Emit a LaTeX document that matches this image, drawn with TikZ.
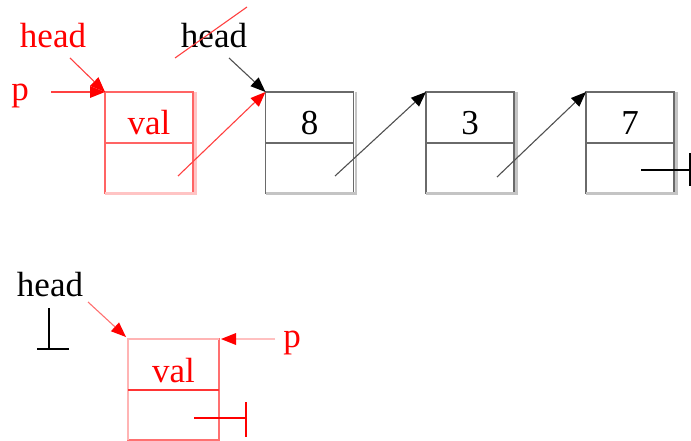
\documentclass[tikz,border=0pt]{standalone}
\usepackage{fontspec}
\setmainfont{Liberation Serif}
\usetikzlibrary{arrows.meta}
\definecolor{boxred}{HTML}{FF6464}
\definecolor{shred}{HTML}{FFC4C4}
\definecolor{boxgray}{HTML}{6A6A6A}
\definecolor{shgray}{HTML}{C4C4C4}
\definecolor{linered}{HTML}{FF4040}
\definecolor{linegray}{HTML}{505050}
\definecolor{pinkA}{HTML}{FFB4B4}
\definecolor{pinkB}{HTML}{FF7070}
\definecolor{midred}{HTML}{FF3434}
\definecolor{pinkline}{HTML}{FFC0C0}
\begin{document}
\begin{tikzpicture}[x=1pt,y=-1pt,
  lbl/.style={font=\fontsize{35}{40}\selectfont, inner sep=0pt, anchor=base},
  cellbox/.style={draw, line width=1.6pt, minimum width=88pt, inner sep=0pt, outer sep=0pt,
    font=\fontsize{35}{40}\selectfont, text height=35pt, text depth=0pt},
  topcell/.style={cellbox, minimum height=51pt},
  botcell/.style={cellbox, minimum height=50pt},
  ptr/.style={line width=1.1pt},
  redptr/.style={ptr, draw=linered, -{Triangle[length=15pt,width=12pt,fill=red,line width=0pt]}},
  blkptr/.style={ptr, draw=linegray, -{Triangle[length=15pt,width=12pt,fill=black,line width=0pt]}},
  shadowred/.style={draw=shred, line width=2.5pt},
  shadowgray/.style={draw=shgray, line width=2.5pt},
  nullline/.style={line width=1.8pt},
]
\useasboundingbox (0,0) rectangle (691,441);

% ---------- top row ----------
\node[topcell, draw=boxred, text=red] (v0) at (149,117.5) {val};
\node[botcell, draw=boxred] (n0) at (149,168) {};
\node[topcell, draw=boxgray] (v1) at (309.5,117.5) {8};
\node[botcell, draw=boxgray] (n1) at (309.5,168) {};
\node[topcell, draw=boxgray] (v2) at (470,117.5) {3};
\node[botcell, draw=boxgray] (n2) at (470,168) {};
\node[topcell, draw=boxgray] (v3) at (630,117.5) {7};
\node[botcell, draw=boxgray] (n3) at (630,168) {};

% shadows
\draw[shadowred] ([xshift=2.5pt]v0.north east) -- ([xshift=2.5pt,yshift=-0.5pt]n0.south east) -- ([yshift=-0.5pt]n0.south west);
\foreach \i in {1,2,3}{
  \draw[shadowgray] ([xshift=2.5pt]v\i.north east) -- ([xshift=2.5pt,yshift=-0.5pt]n\i.south east) -- ([yshift=-0.5pt]n\i.south west);
}

% labels
\node[lbl, text=red] (hred) at (53,48) {head};
\node[lbl] (hblk) at (214,48) {head};
\node[lbl, text=red] (ptop) at (20,101) {p};

% coordinates
\coordinate (hrs) at (70,58);
\coordinate (pts) at (51,92);
\coordinate (hbs) at (229,58);
\coordinate (s0) at (178,176);
\coordinate (s1) at (335,176);
\coordinate (s2) at (497,177);
\coordinate (x1) at (175,58);
\coordinate (x2) at (247,7);
\coordinate (z1) at (641,170);
\coordinate (z2) at (690,170);
\coordinate (z3) at (690,153);
\coordinate (z4) at (690,186);

% connectors top
\draw[redptr] (hrs) -- (v0.north west);
\draw[redptr] (pts) -- (v0.north west);
\draw[redptr] (s0) -- (v1.north west);
\draw[blkptr] (hbs) -- (v1.north west);
\draw[blkptr] (s1) -- (v2.north west);
\draw[blkptr] (s2) -- (v3.north west);
\draw[draw=linered, line width=1.1pt] (x1) -- (x2);
\draw[nullline] (z1) -- (z2);
\draw[nullline] (z3) -- (z4);

% ---------- bottom ----------
\node[topcell, draw=pinkB, text=red, minimum width=91pt] (bv) at (173.5,364.5) {val};
\node[botcell, draw=pinkB, minimum width=91pt] (bn) at (173.5,415) {};
\draw[draw=pinkA, line width=2.5pt] (bn.south west) -- (bv.north west) -- (bv.north east);
\draw[draw=midred, line width=1.8pt] (bv.south west) -- (bv.south east);

\node[lbl] (hbot) at (50,296) {head};
\node[lbl, text=red] (pbot) at (292,347) {p};

\coordinate (g1) at (49,308);
\coordinate (g2) at (49,349);
\coordinate (g3) at (37,349);
\coordinate (g4) at (69,349);
\coordinate (hbs2) at (88,302);
\coordinate (pbs) at (275,339);
\coordinate (r1) at (194,418);
\coordinate (r2) at (246,418);
\coordinate (r3) at (246,402);
\coordinate (r4) at (246,437);

\draw[nullline] (g1) -- (g2);
\draw[nullline] (g3) -- (g4);
\draw[ptr, draw=pinkB, -{Triangle[length=15pt,width=12pt,fill=red,line width=0pt]}] (hbs2) -- ([xshift=-2pt,yshift=2pt]bv.north west);
\draw[ptr, draw=pinkline, line width=2.5pt, -{Triangle[length=15pt,width=12pt,fill=red,line width=0pt]}] (pbs) -- ([xshift=2pt]bv.north east);
\draw[nullline, draw=red, line width=2.2pt] (r1) -- (r2);
\draw[nullline, draw=red, line width=2.2pt] (r3) -- (r4);
\end{tikzpicture}
\end{document}
